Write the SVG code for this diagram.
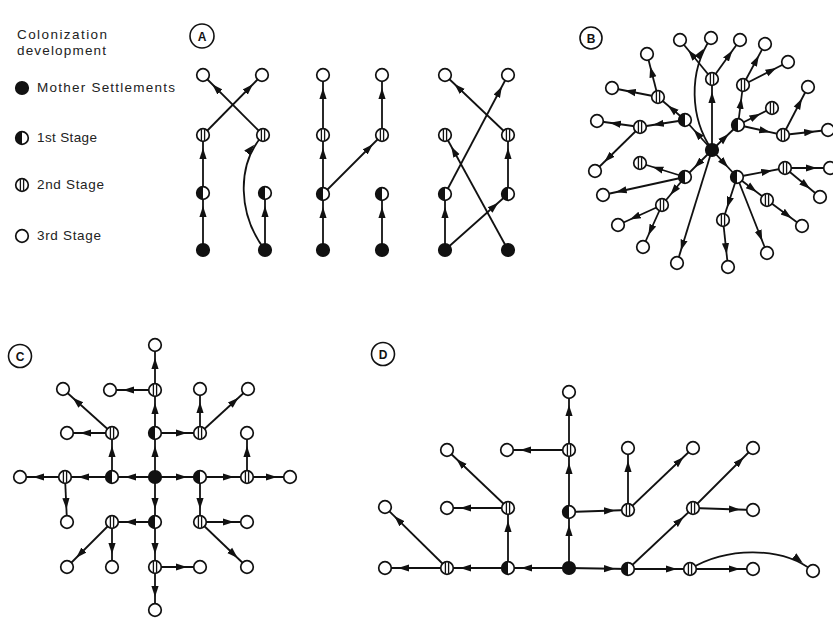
<svg xmlns="http://www.w3.org/2000/svg" xmlns:xlink="http://www.w3.org/1999/xlink" width="833" height="621" viewBox="0 0 833 621">
<style>
.e{stroke:#111;stroke-width:1.8;fill:none;marker-end:url(#arr)}
.lg{font-family:"Liberation Sans",Arial,sans-serif;font-size:13.5px;fill:#222}
.lbl{font-family:"Liberation Sans",Arial,sans-serif;font-size:12px;font-weight:bold;fill:#111;text-anchor:middle}
.lc{fill:#fff;stroke:#111;stroke-width:1.6}
</style>
<defs>
<marker id="arr" markerUnits="userSpaceOnUse" markerWidth="26" markerHeight="10" refX="24" refY="5" orient="auto">
<path d="M0,1.4 L11,5 L0,8.6 z" fill="#111"/>
</marker>
<g id="mo"><circle r="6.3" fill="#111" stroke="#111" stroke-width="1.6"/></g>
<g id="fi"><circle r="6.3" fill="#fff" stroke="#111" stroke-width="1.7"/><path d="M0,-6.3 A6.3,6.3 0 0 0 0,6.3 Z" fill="#111"/></g>
<g id="se"><circle r="6.3" fill="#fff" stroke="#111" stroke-width="1.7"/><path d="M-1.6,-5.8 V5.8 M1.6,-5.8 V5.8" stroke="#111" stroke-width="1.3"/></g>
<g id="th"><circle r="6.3" fill="#fff" stroke="#111" stroke-width="1.7"/></g>
</defs>
<rect width="833" height="621" fill="#fff"/>

<g id="legend">
<text class="lg" x="17" y="39" textLength="90" lengthAdjust="spacing">Colonization</text>
<text class="lg" x="17" y="55" textLength="89" lengthAdjust="spacing">development</text>
<use href="#mo" x="22" y="88"/>
<text class="lg" x="37" y="92" textLength="138" lengthAdjust="spacing">Mother Settlements</text>
<use href="#fi" x="22" y="138"/>
<text class="lg" x="37" y="142" textLength="60" lengthAdjust="spacing">1st Stage</text>
<use href="#se" x="22" y="185"/>
<text class="lg" x="37" y="189" textLength="67" lengthAdjust="spacing">2nd Stage</text>
<use href="#th" x="22" y="236"/>
<text class="lg" x="37" y="240" textLength="64" lengthAdjust="spacing">3rd Stage</text>
</g>

<g id="labels">
<g id="label-A"><circle class="lc" cx="202" cy="36" r="12"/><text class="lbl" x="202" y="40.5">A</text></g>
<g id="label-B"><circle class="lc" cx="591" cy="38" r="11"/><text class="lbl" x="591" y="42.5">B</text></g>
<g id="label-C"><circle class="lc" cx="20" cy="356" r="11.5"/><text class="lbl" x="20" y="360.5">C</text></g>
<g id="label-D"><circle class="lc" cx="383" cy="354" r="11.5"/><text class="lbl" x="383" y="358.5">D</text></g>
</g>

<g id="connectors">
<!-- Panel A -->
<line class="e" x1="203" y1="250" x2="203" y2="193"/>
<line class="e" x1="203" y1="193" x2="203" y2="135"/>
<line class="e" x1="203" y1="135" x2="262" y2="75"/>
<line class="e" x1="265" y1="250" x2="265" y2="193"/>
<path class="e" d="M265,250 C238,215 236,165 263,135"/>
<line class="e" x1="263" y1="135" x2="203" y2="75"/>
<line class="e" x1="323" y1="250" x2="323" y2="194"/>
<line class="e" x1="323" y1="194" x2="323" y2="135"/>
<line class="e" x1="323" y1="135" x2="323" y2="75"/>
<line class="e" x1="323" y1="194" x2="382" y2="135"/>
<line class="e" x1="382" y1="135" x2="382" y2="75"/>
<line class="e" x1="382" y1="250" x2="382" y2="194"/>
<line class="e" x1="445" y1="250" x2="445" y2="194"/>
<line class="e" x1="445" y1="194" x2="508" y2="75"/>
<line class="e" x1="445" y1="250" x2="508" y2="194"/>
<line class="e" x1="508" y1="194" x2="508" y2="135"/>
<line class="e" x1="508" y1="135" x2="445" y2="75"/>
<line class="e" x1="508" y1="250" x2="445" y2="135"/>
<!-- Panel B -->
<line class="e" x1="712" y1="150" x2="685" y2="120"/>
<line class="e" x1="685" y1="120" x2="658" y2="97"/>
<line class="e" x1="658" y1="97" x2="647" y2="54"/>
<line class="e" x1="658" y1="97" x2="612" y2="88"/>
<line class="e" x1="685" y1="120" x2="640" y2="127"/>
<line class="e" x1="640" y1="127" x2="597" y2="121"/>
<line class="e" x1="640" y1="127" x2="595" y2="171"/>
<line class="e" x1="712" y1="150" x2="712" y2="79"/>
<line class="e" x1="712" y1="79" x2="680" y2="40"/>
<line class="e" x1="712" y1="79" x2="740" y2="40"/>
<path class="e" d="M712,150 C690,118 688,72 711,38"/>
<line class="e" x1="712" y1="150" x2="738" y2="125"/>
<line class="e" x1="738" y1="125" x2="743" y2="85"/>
<line class="e" x1="743" y1="85" x2="765" y2="44"/>
<line class="e" x1="743" y1="85" x2="788" y2="62"/>
<line class="e" x1="738" y1="125" x2="772" y2="108"/>
<line class="e" x1="738" y1="125" x2="783" y2="135"/>
<line class="e" x1="783" y1="135" x2="808" y2="87"/>
<line class="e" x1="783" y1="135" x2="828" y2="130"/>
<line class="e" x1="712" y1="150" x2="685" y2="177"/>
<line class="e" x1="685" y1="177" x2="640" y2="163"/>
<line class="e" x1="685" y1="177" x2="603" y2="195"/>
<line class="e" x1="685" y1="177" x2="662" y2="205"/>
<line class="e" x1="662" y1="205" x2="618" y2="225"/>
<line class="e" x1="662" y1="205" x2="643" y2="247"/>
<line class="e" x1="712" y1="150" x2="677" y2="263"/>
<line class="e" x1="712" y1="150" x2="737" y2="177"/>
<line class="e" x1="737" y1="177" x2="785" y2="168"/>
<line class="e" x1="785" y1="168" x2="830" y2="168"/>
<line class="e" x1="785" y1="168" x2="820" y2="197"/>
<line class="e" x1="737" y1="177" x2="767" y2="200"/>
<line class="e" x1="767" y1="200" x2="802" y2="226"/>
<line class="e" x1="737" y1="177" x2="723" y2="220"/>
<line class="e" x1="723" y1="220" x2="728" y2="267"/>
<line class="e" x1="737" y1="177" x2="767" y2="253"/>
<!-- Panel C -->
<line class="e" x1="155" y1="477" x2="155" y2="433"/>
<line class="e" x1="155" y1="433" x2="155" y2="390"/>
<line class="e" x1="155" y1="390" x2="155" y2="345"/>
<line class="e" x1="155" y1="390" x2="110" y2="390"/>
<line class="e" x1="155" y1="477" x2="112" y2="477"/>
<line class="e" x1="112" y1="477" x2="112" y2="433"/>
<line class="e" x1="112" y1="433" x2="67" y2="433"/>
<line class="e" x1="112" y1="433" x2="63" y2="389"/>
<line class="e" x1="112" y1="477" x2="65" y2="477"/>
<line class="e" x1="65" y1="477" x2="20" y2="477"/>
<line class="e" x1="65" y1="477" x2="67" y2="522"/>
<line class="e" x1="155" y1="477" x2="155" y2="522"/>
<line class="e" x1="155" y1="522" x2="112" y2="522"/>
<line class="e" x1="112" y1="522" x2="67" y2="567"/>
<line class="e" x1="112" y1="522" x2="112" y2="567"/>
<line class="e" x1="155" y1="522" x2="155" y2="567"/>
<line class="e" x1="155" y1="567" x2="155" y2="610"/>
<line class="e" x1="155" y1="567" x2="200" y2="567"/>
<line class="e" x1="155" y1="433" x2="200" y2="433"/>
<line class="e" x1="200" y1="433" x2="200" y2="389"/>
<line class="e" x1="200" y1="433" x2="248" y2="389"/>
<line class="e" x1="155" y1="477" x2="200" y2="477"/>
<line class="e" x1="200" y1="477" x2="247" y2="477"/>
<line class="e" x1="247" y1="477" x2="247" y2="433"/>
<line class="e" x1="247" y1="477" x2="290" y2="477"/>
<line class="e" x1="200" y1="477" x2="200" y2="522"/>
<line class="e" x1="200" y1="522" x2="247" y2="522"/>
<line class="e" x1="200" y1="522" x2="247" y2="567"/>
<!-- Panel D -->
<line class="e" x1="569" y1="568" x2="569" y2="512"/>
<line class="e" x1="569" y1="512" x2="569" y2="450"/>
<line class="e" x1="569" y1="450" x2="569" y2="392"/>
<line class="e" x1="569" y1="450" x2="507" y2="450"/>
<line class="e" x1="569" y1="512" x2="628" y2="510"/>
<line class="e" x1="628" y1="510" x2="628" y2="448"/>
<line class="e" x1="628" y1="510" x2="693" y2="448"/>
<line class="e" x1="569" y1="568" x2="508" y2="568"/>
<line class="e" x1="508" y1="568" x2="508" y2="508"/>
<line class="e" x1="508" y1="508" x2="447" y2="508"/>
<line class="e" x1="508" y1="508" x2="447" y2="450"/>
<line class="e" x1="508" y1="568" x2="447" y2="568"/>
<line class="e" x1="447" y1="568" x2="385" y2="568"/>
<line class="e" x1="447" y1="568" x2="385" y2="507"/>
<line class="e" x1="569" y1="568" x2="628" y2="569"/>
<line class="e" x1="628" y1="569" x2="690" y2="569"/>
<line class="e" x1="690" y1="569" x2="753" y2="569"/>
<path class="e" d="M690,569 C725,548 780,545 813,571"/>
<line class="e" x1="628" y1="569" x2="693" y2="508"/>
<line class="e" x1="693" y1="508" x2="753" y2="510"/>
<line class="e" x1="693" y1="508" x2="753" y2="448"/>
</g>

<g id="nodes-A">
<g id="A1"><use href="#mo" x="203" y="250"/></g>
<g id="A2"><use href="#fi" x="203" y="193"/></g>
<g id="A3"><use href="#se" x="203" y="135"/></g>
<g id="A4"><use href="#th" x="203" y="75"/></g>
<g id="A5"><use href="#mo" x="265" y="250"/></g>
<g id="A6"><use href="#fi" x="265" y="193"/></g>
<g id="A7"><use href="#se" x="263" y="135"/></g>
<g id="A8"><use href="#th" x="262" y="75"/></g>
<g id="A9"><use href="#mo" x="323" y="250"/></g>
<g id="A10"><use href="#fi" x="323" y="194"/></g>
<g id="A11"><use href="#se" x="323" y="135"/></g>
<g id="A12"><use href="#th" x="323" y="75"/></g>
<g id="A13"><use href="#mo" x="382" y="250"/></g>
<g id="A14"><use href="#fi" x="382" y="194"/></g>
<g id="A15"><use href="#se" x="382" y="135"/></g>
<g id="A16"><use href="#th" x="382" y="75"/></g>
<g id="A17"><use href="#mo" x="445" y="250"/></g>
<g id="A18"><use href="#fi" x="445" y="194"/></g>
<g id="A19"><use href="#se" x="445" y="135"/></g>
<g id="A20"><use href="#th" x="445" y="75"/></g>
<g id="A21"><use href="#mo" x="508" y="250"/></g>
<g id="A22"><use href="#fi" x="508" y="194"/></g>
<g id="A23"><use href="#se" x="508" y="135"/></g>
<g id="A24"><use href="#th" x="508" y="75"/></g>
</g>

<g id="nodes-B">
<g id="B-m"><use href="#mo" x="712" y="150"/></g>
<g id="B-f1"><use href="#fi" x="685" y="120"/></g>
<g id="B-f2"><use href="#fi" x="685" y="177"/></g>
<g id="B-f3"><use href="#fi" x="738" y="125"/></g>
<g id="B-f4"><use href="#fi" x="737" y="177"/></g>
<g id="B-s1"><use href="#se" x="712" y="79"/></g>
<g id="B-s2"><use href="#se" x="658" y="97"/></g>
<g id="B-s3"><use href="#se" x="640" y="127"/></g>
<g id="B-s4"><use href="#se" x="743" y="85"/></g>
<g id="B-s5"><use href="#se" x="772" y="108"/></g>
<g id="B-s6"><use href="#se" x="783" y="135"/></g>
<g id="B-s7"><use href="#se" x="640" y="163"/></g>
<g id="B-s8"><use href="#se" x="662" y="205"/></g>
<g id="B-s9"><use href="#se" x="785" y="168"/></g>
<g id="B-s10"><use href="#se" x="767" y="200"/></g>
<g id="B-s11"><use href="#se" x="723" y="220"/></g>
<g id="B-t1"><use href="#th" x="680" y="40"/></g>
<g id="B-t2"><use href="#th" x="711" y="38"/></g>
<g id="B-t3"><use href="#th" x="740" y="40"/></g>
<g id="B-t4"><use href="#th" x="647" y="54"/></g>
<g id="B-t5"><use href="#th" x="612" y="88"/></g>
<g id="B-t6"><use href="#th" x="597" y="121"/></g>
<g id="B-t7"><use href="#th" x="595" y="171"/></g>
<g id="B-t8"><use href="#th" x="765" y="44"/></g>
<g id="B-t9"><use href="#th" x="788" y="62"/></g>
<g id="B-t10"><use href="#th" x="808" y="87"/></g>
<g id="B-t11"><use href="#th" x="828" y="130"/></g>
<g id="B-t12"><use href="#th" x="603" y="195"/></g>
<g id="B-t13"><use href="#th" x="618" y="225"/></g>
<g id="B-t14"><use href="#th" x="643" y="247"/></g>
<g id="B-t15"><use href="#th" x="677" y="263"/></g>
<g id="B-t16"><use href="#th" x="830" y="168"/></g>
<g id="B-t17"><use href="#th" x="820" y="197"/></g>
<g id="B-t18"><use href="#th" x="802" y="226"/></g>
<g id="B-t19"><use href="#th" x="728" y="267"/></g>
<g id="B-t20"><use href="#th" x="767" y="253"/></g>
</g>

<g id="nodes-C">
<g id="C-m"><use href="#mo" x="155" y="477"/></g>
<g id="C-f1"><use href="#fi" x="155" y="433"/></g>
<g id="C-f2"><use href="#fi" x="112" y="477"/></g>
<g id="C-f3"><use href="#fi" x="155" y="522"/></g>
<g id="C-f4"><use href="#fi" x="200" y="477"/></g>
<g id="C-s1"><use href="#se" x="155" y="390"/></g>
<g id="C-s2"><use href="#se" x="112" y="433"/></g>
<g id="C-s3"><use href="#se" x="65" y="477"/></g>
<g id="C-s4"><use href="#se" x="112" y="522"/></g>
<g id="C-s5"><use href="#se" x="155" y="567"/></g>
<g id="C-s6"><use href="#se" x="200" y="433"/></g>
<g id="C-s7"><use href="#se" x="247" y="477"/></g>
<g id="C-s8"><use href="#se" x="200" y="522"/></g>
<g id="C-t1"><use href="#th" x="155" y="345"/></g>
<g id="C-t2"><use href="#th" x="110" y="390"/></g>
<g id="C-t3"><use href="#th" x="63" y="389"/></g>
<g id="C-t4"><use href="#th" x="67" y="433"/></g>
<g id="C-t5"><use href="#th" x="20" y="477"/></g>
<g id="C-t6"><use href="#th" x="67" y="522"/></g>
<g id="C-t7"><use href="#th" x="67" y="567"/></g>
<g id="C-t8"><use href="#th" x="112" y="567"/></g>
<g id="C-t9"><use href="#th" x="155" y="610"/></g>
<g id="C-t10"><use href="#th" x="200" y="389"/></g>
<g id="C-t11"><use href="#th" x="248" y="389"/></g>
<g id="C-t12"><use href="#th" x="247" y="433"/></g>
<g id="C-t13"><use href="#th" x="290" y="477"/></g>
<g id="C-t14"><use href="#th" x="247" y="522"/></g>
<g id="C-t15"><use href="#th" x="247" y="567"/></g>
<g id="C-t16"><use href="#th" x="200" y="567"/></g>
</g>

<g id="nodes-D">
<g id="D-m"><use href="#mo" x="569" y="568"/></g>
<g id="D-f1"><use href="#fi" x="569" y="512"/></g>
<g id="D-f2"><use href="#fi" x="508" y="568"/></g>
<g id="D-f3"><use href="#fi" x="628" y="569"/></g>
<g id="D-s1"><use href="#se" x="569" y="450"/></g>
<g id="D-s2"><use href="#se" x="508" y="508"/></g>
<g id="D-s3"><use href="#se" x="447" y="568"/></g>
<g id="D-s4"><use href="#se" x="628" y="510"/></g>
<g id="D-s5"><use href="#se" x="693" y="508"/></g>
<g id="D-s6"><use href="#se" x="690" y="569"/></g>
<g id="D-t1"><use href="#th" x="569" y="392"/></g>
<g id="D-t2"><use href="#th" x="507" y="450"/></g>
<g id="D-t3"><use href="#th" x="447" y="508"/></g>
<g id="D-t4"><use href="#th" x="447" y="450"/></g>
<g id="D-t5"><use href="#th" x="385" y="568"/></g>
<g id="D-t6"><use href="#th" x="385" y="507"/></g>
<g id="D-t7"><use href="#th" x="628" y="448"/></g>
<g id="D-t8"><use href="#th" x="693" y="448"/></g>
<g id="D-t9"><use href="#th" x="753" y="448"/></g>
<g id="D-t10"><use href="#th" x="753" y="510"/></g>
<g id="D-t11"><use href="#th" x="753" y="569"/></g>
<g id="D-t12"><use href="#th" x="813" y="571"/></g>
</g>
</svg>
